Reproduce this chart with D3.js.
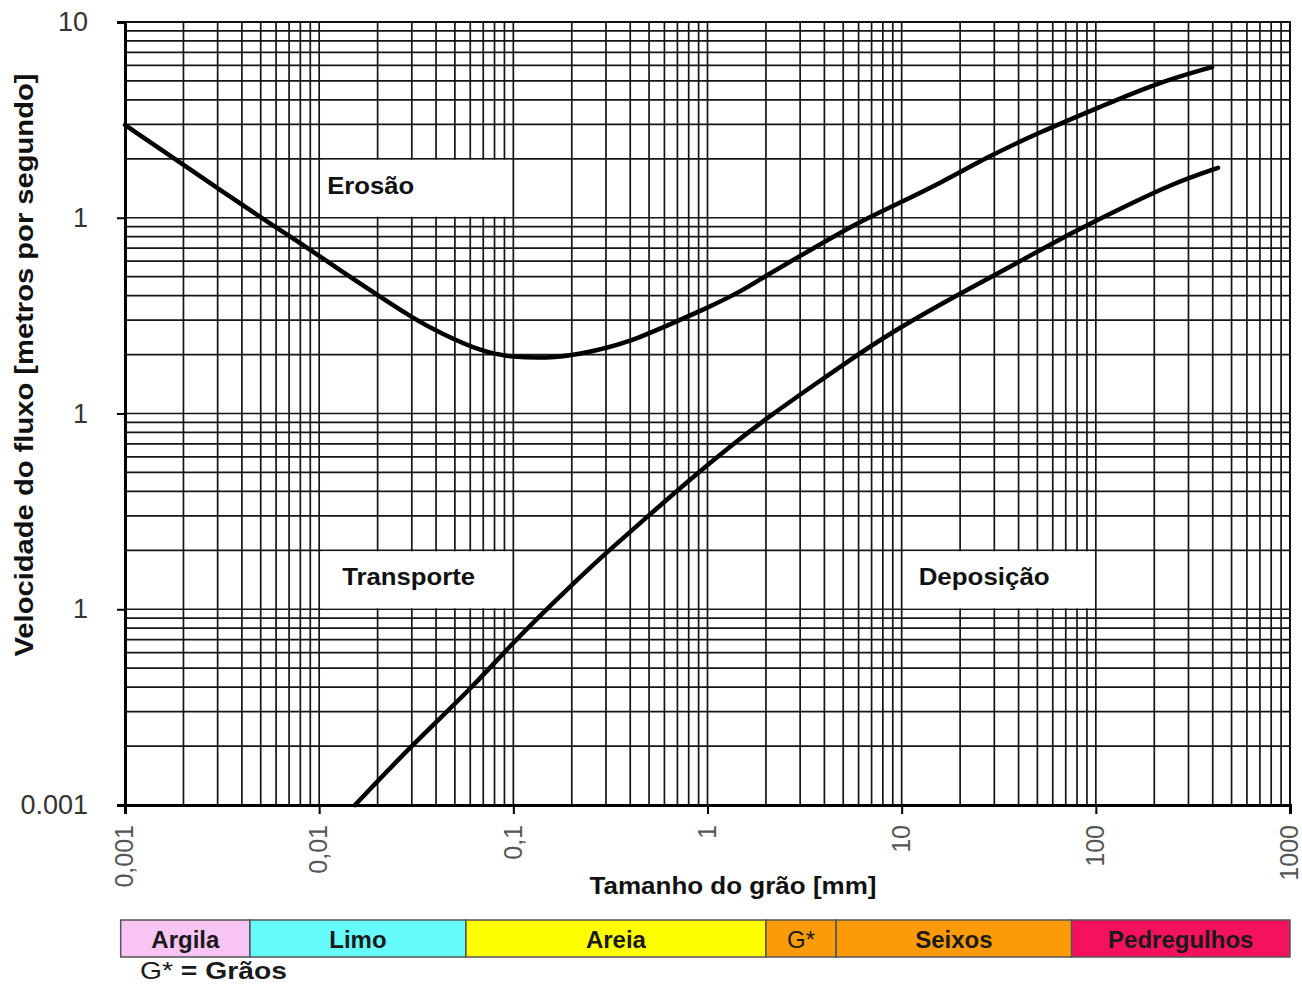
<!DOCTYPE html>
<html>
<head>
<meta charset="utf-8">
<script src="https://cdn.jsdelivr.net/npm/d3@7"></script>
<style>
  body { margin: 0; background: #fff; }
  svg { display: block; font-family: Arial, "Liberation Sans", sans-serif; }
</style>
</head>
<body>
<div id="chart"></div>
<script>
// Hjulstrom diagram (grain size mm, velocity)
var erosionSize = [0.001, 0.00199, 0.00308, 0.00496, 0.00826, 0.0128, 0.0206, 0.0304, 0.0419, 0.0698, 0.0961,
                   0.168, 0.248, 0.385, 0.664, 0.994, 1.47, 2.03, 3.25, 5.89, 8.71, 15.8, 27.5, 51.6, 105, 206, 397];
var erosionVel = [2.98, 1.87, 1.39, 1.01, 0.726, 0.541, 0.394, 0.307, 0.258, 0.206, 0.194,
                  0.192, 0.206, 0.229, 0.290, 0.346, 0.417, 0.510, 0.668, 0.940, 1.13, 1.50, 2.04, 2.74, 3.68, 4.88, 5.89];

var depositSize = [0.0153, 0.0301, 0.0620, 0.102, 0.220, 0.304, 0.488, 0.842, 1.31, 2.10, 3.80, 4.81,
                   8.71, 19.3, 39.3, 76.3, 138, 250, 426];
var depositVel = [0.001, 0.00203, 0.00401, 0.00697, 0.0146, 0.0196, 0.0296, 0.0474, 0.0680, 0.0975, 0.147, 0.173,
                  0.258, 0.403, 0.587, 0.846, 1.13, 1.50, 1.80];

var xTickValues = [0.001, 0.01, 0.1, 1, 10, 100, 1000];
var xTickLabels = ["0,001", "0,01", "0,1", "1", "10", "100", "1000"];
var yTickValues = [0.001, 0.01, 0.1, 1, 10];
var yTickLabels = ["0.001", "1", "1", "1", "10"];

// zone labels: text, x range, y range
var zoneNames = ["Erosão", "Transporte", "Deposição"];
var zoneX = [[0.01, 0.1], [0.01, 0.1], [10, 100]];
var zoneY = [[1, 2], [0.01, 0.02], [0.01, 0.02]];

// grain classes under the axis
var classNames = ["Argila", "Limo", "Areia", "G*", "Seixos", "Pedregulhos"];
var classBounds = [0.00095, 0.0044, 0.057, 2.0, 4.6, 75, 1000];
var classColors = ["#f8c4f4", "#66fcfc", "#ffff00", "#fc9a08", "#fc9a08", "#f4125e"];
var classBold = [true, true, true, false, true, true];

(function () {
    var W = 1302, H = 985;
    var margin = { top: 22, right: 12, bottom: 180, left: 125 };
    var width = W - margin.left - margin.right,
        height = H - margin.top - margin.bottom;

    var svg = d3.select("#chart").append("svg")
        .attr("width", W).attr("height", H);
    var g = svg.append("g")
        .attr("transform", "translate(" + margin.left + "," + margin.top + ")");

    var x = d3.scaleLog().domain([0.001, 1000]).range([0, width]);
    var y = d3.scaleLog().domain([0.001, 10]).range([height, 0]);

    // log grid
    g.append("g").selectAll("line").data(x.ticks())
        .enter().append("line")
        .attr("x1", function (d) { return x(d); }).attr("x2", function (d) { return x(d); })
        .attr("y1", 0).attr("y2", height)
        .attr("stroke", "#151515").attr("stroke-width", 1.7);
    g.append("g").selectAll("line").data(y.ticks())
        .enter().append("line")
        .attr("y1", function (d) { return y(d); }).attr("y2", function (d) { return y(d); })
        .attr("x1", 0).attr("x2", width)
        .attr("stroke", "#151515").attr("stroke-width", 1.7);

    // white label boxes over the grid
    var labelDx = [8, 23, 17], labelLen = [87, 133, 131];
    zoneNames.forEach(function (name, i) {
        var x0 = x(zoneX[i][0]), x1 = x(zoneX[i][1]);
        var y0 = y(zoneY[i][1]), y1 = y(zoneY[i][0]);
        g.append("rect")
            .attr("x", x0 + 2).attr("y", y0 + 1)
            .attr("width", x1 - x0 - 4).attr("height", y1 - y0 - 2)
            .attr("fill", "#fff");
        g.append("text")
            .attr("x", x0 + labelDx[i]).attr("y", y0 + 35)
            .attr("font-size", "24px").attr("font-weight", "bold").attr("fill", "#111")
            .attr("textLength", labelLen[i]).attr("lengthAdjust", "spacingAndGlyphs")
            .text(name);
    });

    // frame
    g.append("rect").attr("width", width).attr("height", height)
        .attr("fill", "none").attr("stroke", "#111").attr("stroke-width", 2);

    // curves
    var line = d3.line()
        .x(function (d) { return x(d[0]); })
        .y(function (d) { return y(d[1]); })
        .curve(d3.curveBasis);
    g.append("path").datum(d3.zip(erosionSize, erosionVel))
        .attr("d", line).attr("fill", "none").attr("stroke", "#000")
        .attr("stroke-width", 4.5).attr("stroke-linecap", "round");
    g.append("path").datum(d3.zip(depositSize, depositVel))
        .attr("d", line).attr("fill", "none").attr("stroke", "#000")
        .attr("stroke-width", 4.5).attr("stroke-linecap", "round");

    // axes
    var xAxis = g.append("g")
        .attr("transform", "translate(0," + height + ")")
        .call(d3.axisBottom(x).tickValues(xTickValues).tickSize(9)
            .tickFormat(function (d, i) { return xTickLabels[i]; }));
    xAxis.select(".domain").attr("stroke", "#000").attr("stroke-width", 3);
    xAxis.selectAll(".tick line").attr("stroke", "#000").attr("stroke-width", 2);
    xAxis.selectAll("text")
        .attr("transform", "rotate(-90)")
        .attr("x", -20).attr("y", -1).attr("dy", ".35em")
        .style("text-anchor", "end")
        .style("font-size", "25px")
        .style("font-family", "Arial, 'Liberation Sans', sans-serif")
        .attr("fill", "#555");

    var yAxis = g.append("g")
        .call(d3.axisLeft(y).tickValues(yTickValues).tickSize(8)
            .tickFormat(function (d, i) { return yTickLabels[i]; }));
    yAxis.select(".domain").attr("stroke", "#000").attr("stroke-width", 3);
    yAxis.selectAll(".tick line").attr("stroke", "#000").attr("stroke-width", 2);
    yAxis.selectAll("text")
        .attr("x", -37)
        .style("font-size", "27px")
        .style("font-family", "Arial, 'Liberation Sans', sans-serif")
        .attr("fill", "#333");

    // axis titles
    svg.append("text")
        .attr("transform", "translate(33," + (margin.top + 343) + ") rotate(-90)")
        .attr("text-anchor", "middle")
        .attr("font-size", "25px").attr("font-weight", "bold").attr("fill", "#111")
        .attr("textLength", 583).attr("lengthAdjust", "spacingAndGlyphs")
        .text("Velocidade do fluxo [metros por segundo]");
    svg.append("text")
        .attr("x", 733).attr("y", 894)
        .attr("text-anchor", "middle")
        .attr("font-size", "23px").attr("font-weight", "bold").attr("fill", "#111")
        .attr("textLength", 287).attr("lengthAdjust", "spacingAndGlyphs")
        .text("Tamanho do grão [mm]");

    // grain class bar
    var bar = svg.append("g").attr("transform", "translate(" + margin.left + ",920)");
    classNames.forEach(function (name, i) {
        var a = x(classBounds[i]), b = x(classBounds[i + 1]);
        bar.append("rect")
            .attr("x", a).attr("y", 0).attr("width", b - a).attr("height", 37)
            .attr("fill", classColors[i]).attr("stroke", "#555").attr("stroke-width", 1.5);
        bar.append("text")
            .attr("x", (a + b) / 2).attr("y", 28)
            .attr("text-anchor", "middle")
            .attr("font-size", "24px")
            .attr("font-weight", classBold[i] ? "bold" : "normal")
            .attr("fill", "#1a1a1a")
            .text(name);
    });

    var note = svg.append("text").attr("x", 140).attr("y", 979)
        .attr("font-size", "24px").attr("fill", "#1a1a1a")
        .attr("textLength", 147).attr("lengthAdjust", "spacingAndGlyphs");
    note.append("tspan").text("G* ");
    note.append("tspan").attr("font-weight", "bold").text("= Grãos");
})();
</script>
</body>
</html>
